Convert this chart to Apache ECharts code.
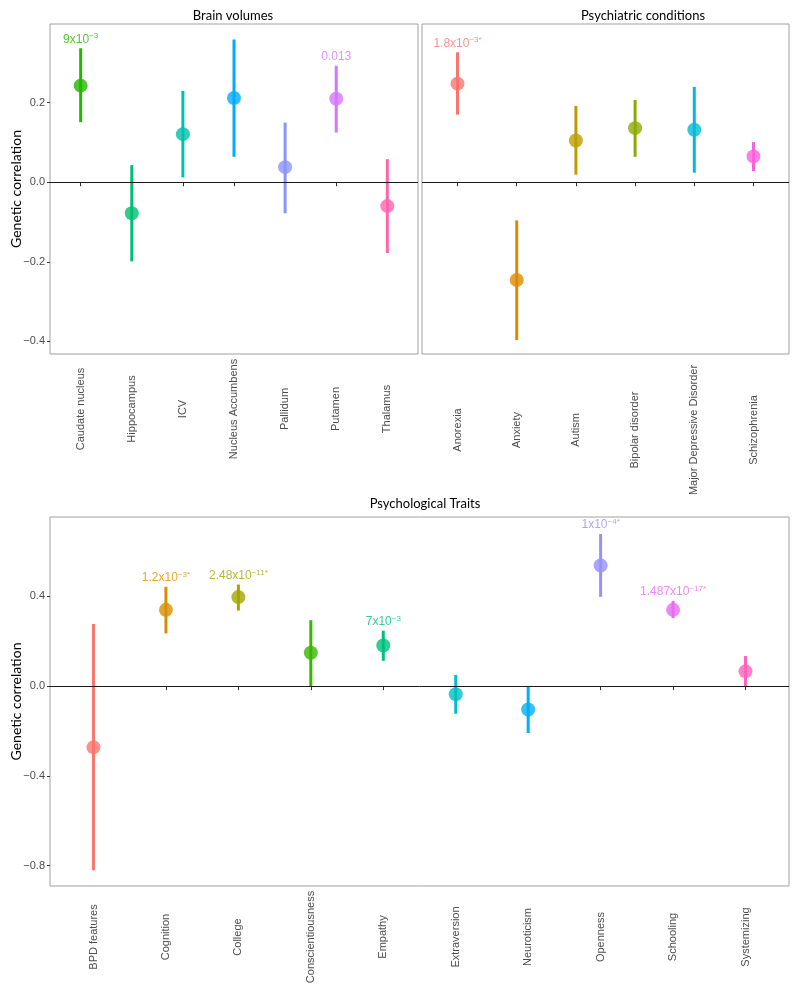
<!DOCTYPE html>
<html>
<head>
<meta charset="utf-8">
<title>Genetic correlation</title>
<script src="https://cdn.jsdelivr.net/npm/echarts@6/dist/echarts.min.js"></script>
<style>
  html, body { margin: 0; padding: 0; background: #fff; }
  #chartDom { width: 800px; height: 993px; }
</style>
</head>
<body>
<div id="chartDom"></div>
<script>
// brain volumes
var brainNames = ['Caudate nucleus', 'Hippocampus', 'ICV', 'Nucleus Accumbens', 'Pallidum', 'Putamen', 'Thalamus'];
var brainEst = [0.243, -0.078, 0.121, 0.212, 0.038, 0.210, -0.060];
var brainLow = [0.151, -0.199, 0.012, 0.064, -0.078, 0.125, -0.178];
var brainHigh = [0.337, 0.043, 0.230, 0.359, 0.150, 0.293, 0.058];
var brainNote = [['9x10', '-3'], null, null, null, null, ['0.013', ''], null];
var brainColors = ['#24B700', '#00BE70', '#00C1AB', '#00ACFC', '#8B93FF', '#D575FE', '#FF65AC'];

// psychiatric conditions
var psychNames = ['Anorexia', 'Anxiety', 'Autism', 'Bipolar disorder', 'Major Depressive Disorder', 'Schizophrenia'];
var psychEst = [0.248, -0.246, 0.105, 0.136, 0.132, 0.065];
var psychLow = [0.170, -0.397, 0.019, 0.064, 0.024, 0.028];
var psychHigh = [0.327, -0.096, 0.192, 0.207, 0.240, 0.101];
var psychNote = [['1.8x10', '-3*'], null, null, null, null, null];
var psychColors = ['#F8766D', '#E18A00', '#BE9C00', '#8CAB00', '#00BBDA', '#F962DD'];

// psychological traits
var traitNames = ['BPD features', 'Cognition', 'College', 'Conscientiousness', 'Empathy', 'Extraversion', 'Neuroticism', 'Openness', 'Schooling', 'Systemizing'];
var traitEst = [-0.273, 0.340, 0.397, 0.149, 0.181, -0.036, -0.104, 0.538, 0.340, 0.066];
var traitLow = [-0.821, 0.235, 0.337, 0.000, 0.113, -0.123, -0.209, 0.398, 0.303, 0.000];
var traitHigh = [0.277, 0.443, 0.453, 0.294, 0.247, 0.050, -0.003, 0.678, 0.380, 0.134];
var traitNote = [null, ['1.2x10', '-3*'], ['2.48x10', '-11*'], null, ['7x10', '-3'], null, null, ['1x10', '-4*'], ['1.487x10', '-17*'], null];
var traitColors = ['#F8766D', '#D89000', '#A3A500', '#39B600', '#00BF7D', '#00BFC4', '#00B0F6', '#9590FF', '#E76BF3', '#FF62BC'];

var topTicks = [-0.4, -0.2, 0, 0.2];
var bottomTicks = [-0.8, -0.4, 0, 0.4];

var labelFont = "'Liberation Sans', Arial, sans-serif";
var titleFont = "Lato, 'Noto Sans', sans-serif";

function tickText(v) {
  var s = v.toFixed(1);
  return v < 0 ? s.replace('-', '\u2212') : s;
}

// rotated labels are centred (ggplot hjust = 0.5), so margin is the label centre
function xAxisFor(idx, names, labelCenter) {
  var vals = names.map(function (n, i) { return i + 1; });
  return {
    type: 'value', gridIndex: idx,
    min: 0.4, max: names.length + 0.6,
    splitLine: { show: false },
    axisLine: { show: false },
    axisTick: { show: true, length: 4, customValues: vals, lineStyle: { color: '#333' } },
    axisLabel: {
      customValues: vals, rotate: 90, margin: labelCenter, align: 'center',
      color: '#4d4d4d', fontSize: 11, fontFamily: labelFont,
      formatter: function (v) { return names[Math.round(v) - 1]; }
    }
  };
}

function yAxisFor(idx, min, max, ticks, showLabels) {
  return {
    type: 'value', gridIndex: idx, min: min, max: max,
    splitLine: { show: false },
    axisLine: { show: false },
    name: showLabels ? 'Genetic correlation' : '',
    nameLocation: 'middle', nameGap: 27, nameMoveOverlap: false,
    nameTextStyle: { color: '#000', fontSize: 14, fontFamily: titleFont },
    axisTick: { show: showLabels, length: 3, customValues: ticks, lineStyle: { color: '#333' } },
    axisLabel: {
      show: showLabels, customValues: ticks, margin: 5,
      color: '#4d4d4d', fontSize: 11, fontFamily: labelFont,
      formatter: tickText
    }
  };
}

function panelSeries(idx, est, low, high, note, colors) {
  var bars = est.map(function (e, i) { return [i + 1, low[i], high[i], i]; });
  var pts = est.map(function (e, i) { return { value: [i + 1, e], itemStyle: { color: colors[i] } }; });
  var notes = [];
  note.forEach(function (n, i) {
    if (!n) return;
    notes.push({
      value: [i + 1, high[i]],
      label: { color: colors[i], formatter: '{b|' + n[0] + '}' + (n[1] ? '{s|' + n[1].replace('-', '\u2212') + '}' : '') }
    });
  });
  return [
    {
      type: 'custom', xAxisIndex: idx, yAxisIndex: idx,
      data: bars, silent: true,
      renderItem: function (params, api) {
        var p1 = api.coord([api.value(0), api.value(1)]);
        var p2 = api.coord([api.value(0), api.value(2)]);
        return {
          type: 'line',
          shape: { x1: p1[0], y1: p1[1], x2: p2[0], y2: p2[1] },
          style: { stroke: colors[api.value(3)], lineWidth: 3 }
        };
      },
      markLine: {
        silent: true, symbol: 'none', animation: false,
        label: { show: false },
        lineStyle: { color: '#1a1a1a', width: 1, type: 'solid' },
        data: [{ yAxis: 0 }]
      }
    },
    {
      type: 'scatter', xAxisIndex: idx, yAxisIndex: idx,
      symbolSize: 14, data: pts, silent: true, z: 3
    },
    {
      type: 'scatter', xAxisIndex: idx, yAxisIndex: idx,
      symbolSize: 0, data: notes, silent: true, z: 4,
      label: {
        show: true, position: 'top', distance: 2,
        rich: {
          b: { fontSize: 12, fontFamily: labelFont, lineHeight: 14 },
          s: { fontSize: 8, fontFamily: labelFont, verticalAlign: 'top', lineHeight: 8, padding: [0, 0, 6, 0] }
        }
      }
    }
  ];
}

var chartDom = document.getElementById('chartDom');
var myChart = echarts.init(chartDom);
var gridStyle = { show: true, borderColor: '#a0a0a0', borderWidth: 1, backgroundColor: '#fff', containLabel: false, outerBoundsMode: 'none' };
var option = {
  animation: false,
  title: [
    { text: 'Brain volumes', left: 228, top: 4, textAlign: 'center', textStyle: { fontSize: 13, fontWeight: 'normal', color: '#000', fontFamily: titleFont } },
    { text: 'Psychiatric conditions', left: 638, top: 4, textAlign: 'center', textStyle: { fontSize: 13, fontWeight: 'normal', color: '#000', fontFamily: titleFont } },
    { text: 'Psychological Traits', left: 420, top: 492, textAlign: 'center', textStyle: { fontSize: 13, fontWeight: 'normal', color: '#000', fontFamily: titleFont } }
  ],
  grid: [
    Object.assign({ left: 50, top: 24, width: 368, height: 330 }, gridStyle),
    Object.assign({ left: 422, top: 24, width: 367, height: 330 }, gridStyle),
    Object.assign({ left: 50, top: 517, width: 739, height: 369 }, gridStyle)
  ],
  xAxis: [xAxisFor(0, brainNames, 55), xAxisFor(1, psychNames, 76), xAxisFor(2, traitNames, 51)],
  yAxis: [
    yAxisFor(0, -0.432, 0.398, topTicks, true),
    yAxisFor(1, -0.432, 0.398, topTicks, false),
    yAxisFor(2, -0.891, 0.754, bottomTicks, true)
  ],
  series: []
    .concat(panelSeries(0, brainEst, brainLow, brainHigh, brainNote, brainColors))
    .concat(panelSeries(1, psychEst, psychLow, psychHigh, psychNote, psychColors))
    .concat(panelSeries(2, traitEst, traitLow, traitHigh, traitNote, traitColors))
};
option && myChart.setOption(option);
</script>
</body>
</html>
